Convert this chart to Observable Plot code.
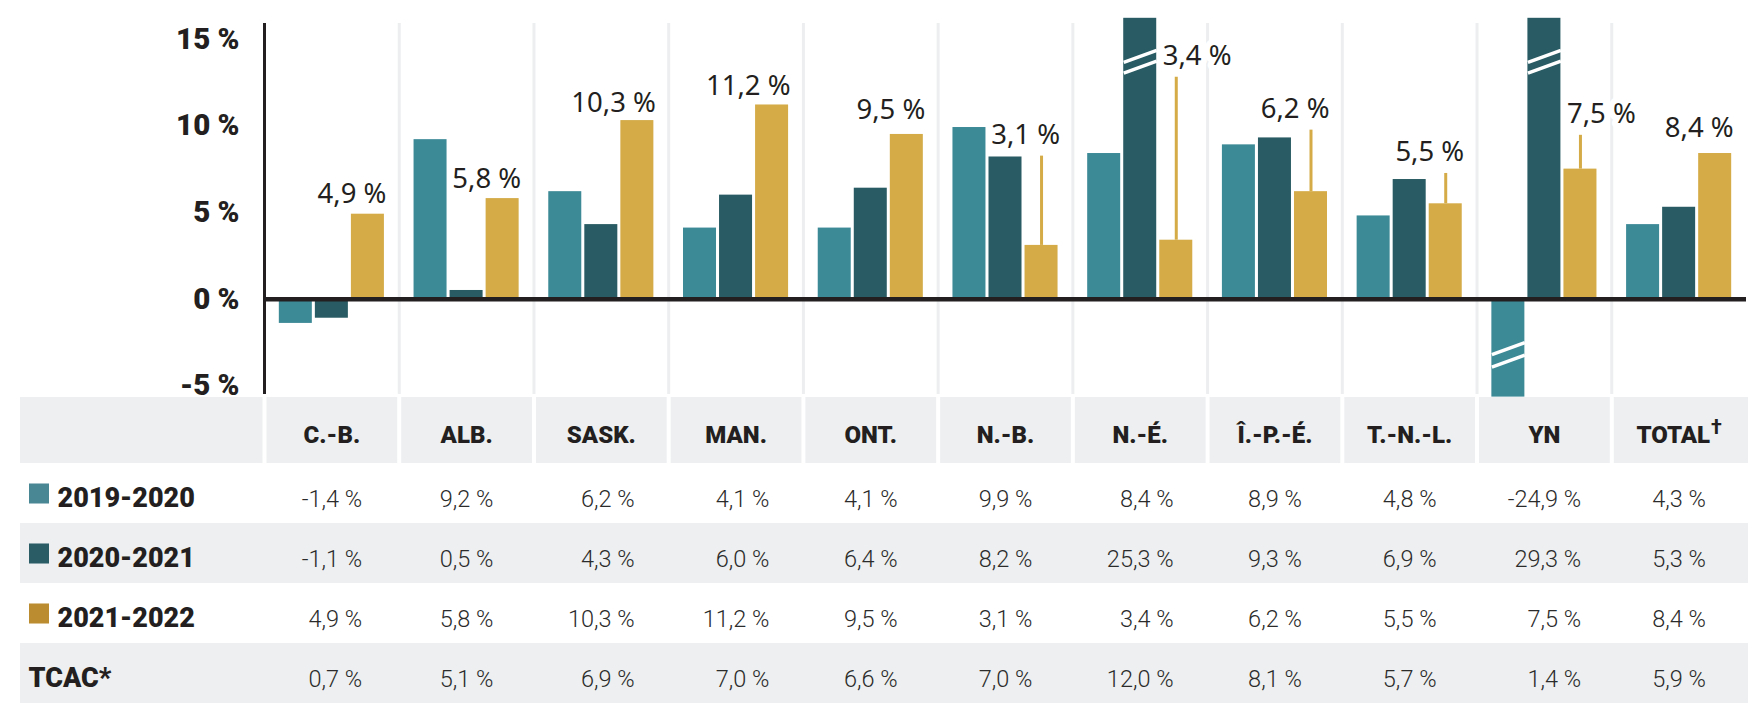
<!DOCTYPE html>
<html>
<head>
<meta charset="utf-8">
<script src="https://cdn.jsdelivr.net/npm/d3@7"></script>
<script src="https://cdn.jsdelivr.net/npm/@observablehq/plot@0.6"></script>
<style>
  html, body { margin: 0; padding: 0; background: #fff; }
  #chart svg { display: block; }
</style>
</head>
<body>
<div id="chart"></div>
<script>
// ---------------- data ----------------
const categories = ["C.-B.", "ALB.", "SASK.", "MAN.", "ONT.", "N.-B.", "N.-É.", "Î.-P.-É.", "T.-N.-L.", "YN", "TOTAL"];
const seriesNames = ["2019-2020", "2020-2021", "2021-2022"];
const v2019 = [-1.4, 9.2, 6.2, 4.1, 4.1, 9.9, 8.4, 8.9, 4.8, -24.9, 4.3];
const v2020 = [-1.1, 0.5, 4.3, 6.0, 6.4, 8.2, 25.3, 9.3, 6.9, 29.3, 5.3];
const v2021 = [4.9, 5.8, 10.3, 11.2, 9.5, 3.1, 3.4, 6.2, 5.5, 7.5, 8.4];
const tcac  = [0.7, 5.1, 6.9, 7.0, 6.6, 7.0, 12.0, 8.1, 5.7, 1.4, 5.9];
const tcacName = "TCAC*";
const yTicks = [-5, 0, 5, 10, 15];
// level (in %) of the centre of each 2021-2022 value label
const labelLevel = [6.05, 6.9, 11.3, 12.3, 10.9, 9.45, 14.0, 10.95, 8.45, 10.65, 9.85];

// ---------------- styling / layout ----------------
const barColors = ["#3d8a97", "#285b63", "#d4ab46"];
const legendColors = ["#4a8795", "#2a5c65", "#bc8c30"];
const INK = "#231f20";
const GREY = "#edeff0";
const GRID = "#eceeef";
const W = 1748;
const X_LEFT = 264, X_RIGHT = 1746;
const COLW = (X_RIGHT - X_LEFT) / categories.length;
const Y_MIN = -5.5, Y_MAX = 15.9;
const CLIP_HI = 16.2, CLIP_LO = -5.65;
const BAR_STEP = 0.2675, BAR_W = 0.245;
const SLANT = 0.345;
const BREAK_HI = [14.0, 13.38], BREAK_LO = [-2.85, -3.57];

const fmt = v => v.toFixed(1).replace(".", ",") + " %";
const seriesValues = [v2019, v2020, v2021];
const bars = seriesValues.flatMap((vals, j) =>
  vals.map((v, i) => ({i, j, v, series: seriesNames[j]})));
const left = d => d.i + 0.5 + (d.j - 1) * BAR_STEP - BAR_W / 2;
const clampV = v => Math.max(CLIP_LO, Math.min(CLIP_HI, v));

const breaks = bars.filter(d => d.v > CLIP_HI || d.v < CLIP_LO)
  .flatMap(d => (d.v > 0 ? BREAK_HI : BREAK_LO).map(c => ({...d, c})));

const labels = v2021.map((v, i) => ({
  i, j: 2, v, level: labelLevel[i], text: fmt(v),
  side: v2020[i] > CLIP_HI ? "start" : "end"
}));
const leaders = labels.filter(d => d.level - d.v > 2);

const LABEL_FONT = {fontFamily: "'Noto Sans', 'Open Sans', sans-serif", fontSize: 27.5, fontWeight: 400};

const chart = Plot.plot({
  width: W, height: 397,
  marginTop: 23, marginBottom: 3, marginLeft: X_LEFT, marginRight: W - X_RIGHT,
  x: {domain: [0, categories.length], axis: null},
  y: {domain: [Y_MIN, Y_MAX], label: null},
  color: {domain: seriesNames, range: barColors},
  style: {fontFamily: "Roboto, 'Noto Sans', sans-serif", fontSize: "29px", fontWeight: 900, color: INK, background: "white", overflow: "visible"},
  marks: [
    Plot.ruleX(d3.range(1, categories.length), {y1: Y_MIN, y2: Y_MAX, stroke: GRID, strokeWidth: 3}),
    Plot.rect(bars, {x1: left, x2: d => left(d) + BAR_W, y1: 0, y2: d => clampV(d.v), fill: "series"}),
    Plot.ruleY([0], {stroke: INK, strokeWidth: 4.5}),
    Plot.ruleX([0], {y1: Y_MIN, y2: Y_MAX, stroke: INK, strokeWidth: 3}),
    Plot.link(breaks, {x1: left, x2: d => left(d) + BAR_W, y1: d => d.c - SLANT, y2: d => d.c + SLANT, stroke: "white", strokeWidth: 3.5}),
    Plot.ruleX(leaders, {x: d => left(d) + BAR_W / 2, y1: d => d.v, y2: d => d.level - 1.2, stroke: barColors[2], strokeWidth: 3}),
    Plot.text(labels.filter(d => d.side === "end"), {x: d => left(d) + BAR_W, y: "level", text: "text", textAnchor: "end", dx: 2,
      fill: INK, stroke: "white", strokeWidth: 12, strokeLinejoin: "round", ...LABEL_FONT}),
    Plot.text(labels.filter(d => d.side === "start"), {x: d => left(d), y: "level", text: "text", textAnchor: "start", dx: 3,
      fill: INK, stroke: "white", strokeWidth: 12, strokeLinejoin: "round", ...LABEL_FONT}),
    Plot.axisY(yTicks, {label: null, tickFormat: d => `${d} %`, tickSize: 0, tickPadding: 25, fontSize: 29.5, fontWeight: 900, fill: INK})
  ]
});

// ---------------- table ----------------
const ctx = document.createElement("canvas").getContext("2d");
const measure = (s, font) => { ctx.font = font; return ctx.measureText(s).width; };
const VAL_FONT = "300 23.5px Roboto";
const HEAD_FONT = "900 24px Roboto";

const rowNames = [...seriesNames, tcacName];
const tableValues = [v2019, v2020, v2021, tcac];
const cells = tableValues.flatMap((vals, k) => vals.map((v, i) => ({i, k: k + 1, text: fmt(v)})));
const maxW = categories.map((c, i) => d3.max(cells.filter(d => d.i === i), d => measure(d.text, VAL_FONT)));

const bands = [{y1: 0, y2: 1.1}, ...[2, 4].map(k => ({y1: k + 0.1, y2: k + 1.1}))];
const rowY = k => k + 0.6;

const head = categories.map((c, i) => ({i, text: c}));
const lastI = categories.length - 1;
const totalW = measure(categories[lastI], HEAD_FONT);
const daggerW = measure("†", "700 20px Roboto");
const headW = totalW + 1 + daggerW;

const legendRows = seriesNames.map((s, k) => ({s, k: k + 1, color: legendColors[k]}));

const table = Plot.plot({
  width: W, height: 313,
  marginTop: 0, marginBottom: 0, marginLeft: 20, marginRight: 0,
  x: {domain: [0, categories.length], range: [X_LEFT, X_RIGHT], axis: null},
  y: {domain: [0, 5.1], range: [0, 306], axis: null},
  style: {fontFamily: "Roboto, 'Noto Sans', sans-serif", fontSize: "23px", color: INK, background: "white"},
  marks: [
    Plot.rect(bands, {y1: "y1", y2: "y2", fill: GREY}),
    Plot.ruleX(d3.range(0, categories.length), {y1: 0, y2: 1.1, stroke: "white", strokeWidth: 4}),
    Plot.text(head.filter(d => d.i !== lastI), {x: d => d.i + 0.5, y: 0.55, dy: 5, text: "text", textAnchor: "middle",
      fontFamily: "Roboto", fontSize: 24, fontWeight: 900, fill: INK}),
    Plot.text(head.filter(d => d.i === lastI), {x: d => d.i + 0.5 - headW / 2 / COLW, y: 0.55, dy: 5, text: "text", textAnchor: "start",
      fontFamily: "Roboto", fontSize: 24, fontWeight: 900, fill: INK}),
    Plot.text(head.filter(d => d.i === lastI), {x: d => d.i + 0.5 + (totalW + 1 - headW / 2) / COLW, y: 0.55, dy: -3, text: () => "†", textAnchor: "start",
      fontFamily: "Roboto", fontSize: 20, fontWeight: 700, fill: INK}),
    Plot.dot(legendRows, {frameAnchor: "left", dx: 18.5, y: d => rowY(d.k), symbol: "square", r: 11.3, fill: "color"}),
    Plot.text(legendRows, {frameAnchor: "left", dx: 37, y: d => rowY(d.k), dy: 5, text: "s", textAnchor: "start",
      fontFamily: "Roboto", fontSize: 27, fontWeight: 900, fill: INK}),
    Plot.text([tcacName], {frameAnchor: "left", dx: 8, y: rowY(4), dy: 5, text: d => d, textAnchor: "start",
      fontFamily: "Roboto", fontSize: 27, fontWeight: 900, fill: INK}),
    Plot.text(cells, {x: d => d.i + 0.5 + maxW[d.i] / 2 / COLW, y: d => rowY(d.k), dy: 6, text: "text", textAnchor: "end",
      fontFamily: "Roboto", fontSize: 23.5, fontWeight: 300, fill: "#2b2b2b"})
  ]
});

const root = document.getElementById("chart");
root.append(chart, table);
</script>
</body>
</html>
